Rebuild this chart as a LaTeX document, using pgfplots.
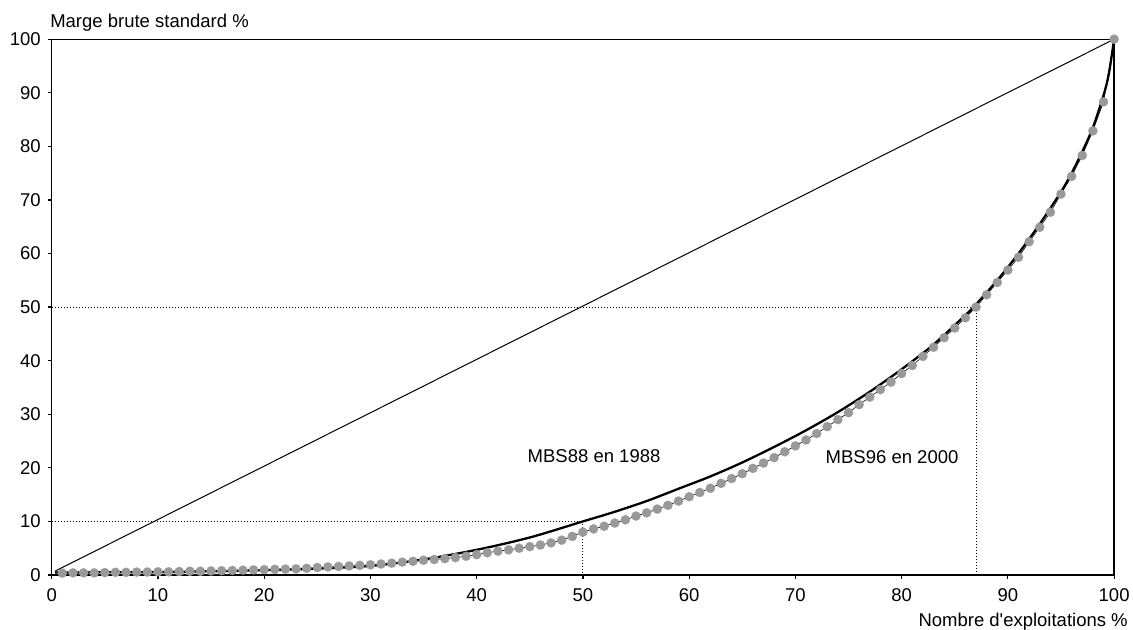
\documentclass[border=0pt]{standalone}
\usepackage{fontspec}
\setmainfont{Liberation Sans}
\usepackage{pgfplots}
\pgfplotsset{compat=1.18}
\newcommand\f{\fontsize{9.25pt}{11pt}\selectfont}
\definecolor{dotgray}{HTML}{999999}
\begin{document}
\begin{tikzpicture}
\useasboundingbox (0,0) rectangle (566.5pt,315pt);
\begin{axis}[
  at={(25.85pt,27.5pt)}, anchor=south west,
  scale only axis, width=531.2pt, height=267.9pt,
  xmin=0, xmax=100, ymin=0, ymax=100,
  xtick={0,10,...,100}, ytick={0,10,...,100},
  tick pos=left, tick align=outside,
  major tick length=2pt,
  axis line style={line width=0.65pt},
  every tick/.style={black, line width=0.6pt},
  /pgf/number format/assume math mode=true,
  tick label style={font=\f},
  xticklabel style={yshift=-1.2pt},
  clip=false,
]
% dotted reference lines
\addplot[black, line width=0.5pt, dash pattern=on 0.5pt off 1pt] coordinates {(0,10) (50,10) (50,0)};
\addplot[black, line width=0.5pt, dash pattern=on 0.5pt off 1pt] coordinates {(0,50) (87,50) (87,0)};
% equality line
\addplot[black, line width=0.5pt] coordinates {(0.3,0.7) (100,100)};
% MBS96 en 2000 (dots)
\addplot[black, line width=0.3pt, mark=*, mark size=2.3pt, mark options={solid, fill=dotgray, draw=dotgray, line width=0.1pt}] coordinates {
(1,0.35) (2,0.4) (3,0.4) (4,0.4) (5,0.45) (6,0.5) (7,0.5) (8,0.55) (9,0.55) (10,0.6)
(11,0.6) (12,0.65) (13,0.7) (14,0.7) (15,0.75) (16,0.8) (17,0.85) (18,0.9) (19,0.95) (20,1.0)
(21,1.05) (22,1.1) (23,1.15) (24,1.25) (25,1.4) (26,1.5) (27,1.6) (28,1.7) (29,1.8) (30,1.9)
(31,2.05) (32,2.2) (33,2.4) (34,2.55) (35,2.75) (36,2.9) (37,3.05) (38,3.25) (39,3.5) (40,3.8)
(41,4.15) (42,4.45) (43,4.7) (44,5.0) (45,5.3) (46,5.6) (47,6.0) (48,6.5) (49,7.2) (50,8.0)
(51,8.6) (52,9.1) (53,9.7) (54,10.3) (55,11.0) (56,11.6) (57,12.3) (58,13.0) (59,13.8) (60,14.6)
(61,15.4) (62,16.2) (63,17.1) (64,18.0) (65,18.9) (66,19.9) (67,20.9) (68,21.9) (69,23.0) (70,24.1)
(71,25.2) (72,26.4) (73,27.7) (74,29.0) (75,30.3) (76,31.8) (77,33.2) (78,34.6) (79,36.0) (80,37.6)
(81,39.1) (82,40.8) (83,42.5) (84,44.3) (85,46.1) (86,48.0) (87,50.0) (88,52.3) (89,54.6) (90,56.9)
(91,59.3) (92,62.2) (93,64.9) (94,67.7) (95,71.1) (96,74.4) (97,78.3) (98,82.9) (99,88.3) (100,100)
};
% MBS88 en 1988 (thick curve)
\addplot[black, line width=1.15pt, smooth, tension=0.5] coordinates {
(0.3,0.45) (5,0.5) (10,0.55) (15,0.7) (20,0.9) (25,1.2) (30,1.7) (35,2.9) (40,4.7) (45,7.0)
(50,10.0) (53,11.8) (56,13.8) (59,16.1) (62,18.4) (65,21.0) (68,23.9) (71,27.0) (74,30.4)
(77,34.2) (80,38.4) (83,43.0) (86,48.5) (87,50.5) (89,55.0) (91,60.0) (93,65.5) (95,71.5)
(96,75.0) (97,79.0) (98,83.5) (99,89.5) (99.5,93.5) (100,100)
};
\node[font=\f] at (axis cs:51.05,22.2) {MBS88 en 1988};
\node[font=\f] at (axis cs:79.1,22.0) {MBS96 en 2000};
\node[font=\f, anchor=base west, inner sep=0pt, xshift=-0.9pt, yshift=5.6pt] at (rel axis cs:0,1) {Marge brute standard \%};
\node[font=\f, anchor=base east, inner sep=0pt, xshift=7pt, yshift=-25.75pt] at (rel axis cs:1,0) {Nombre d\textquotesingle exploitations \%};
\end{axis}
\end{tikzpicture}
\end{document}
